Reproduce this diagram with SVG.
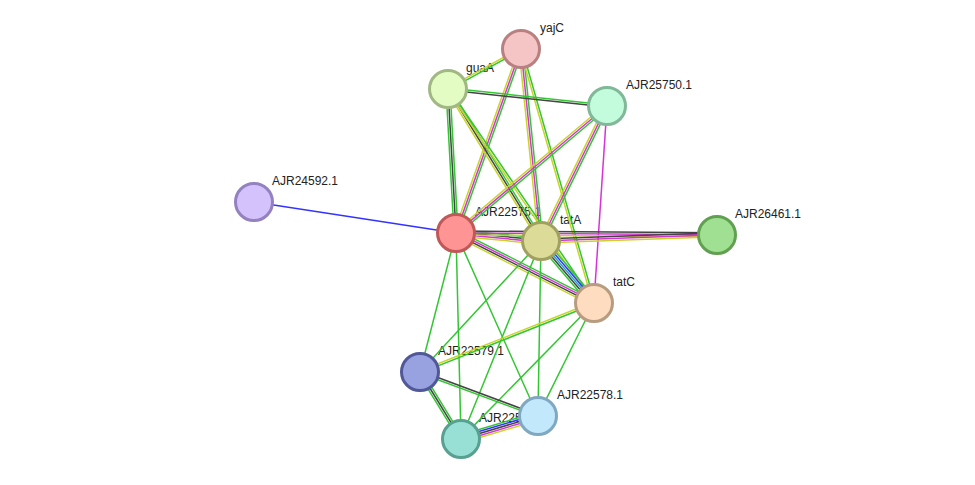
<svg xmlns="http://www.w3.org/2000/svg" width="975" height="485" viewBox="0 0 975 485">
<style>
line{stroke-width:1.5;fill:none}
.g{stroke:#33c633}.y{stroke:#c8d42a}.m{stroke:#d633d6}.k{stroke:#444}.b{stroke:#3333ff}.c{stroke:#22aacc}
circle{stroke-width:3}
text{font-family:"Liberation Sans",Arial,sans-serif;font-size:12px;fill:#222}
</style>
<rect width="975" height="485" fill="#fff"/>
<g id="labels">
<text x="540" y="32">yajC</text>
<text x="466" y="72">guaA</text>
<text x="626" y="89">AJR25750.1</text>
<text x="272" y="185">AJR24592.1</text>
<text x="475" y="216">AJR22575.1</text>
<text x="560" y="224">tatA</text>
<text x="735" y="218">AJR26461.1</text>
<text x="613" y="286">tatC</text>
<text x="438" y="355">AJR22579.1</text>
<text x="557" y="399">AJR22578.1</text>
<text x="479" y="422">AJR22576.1</text>
</g>
<g id="connectors">
<g transform="translate(254,202) rotate(8.7)"><line class="b" x2="204.4"/></g>
<g transform="translate(521,49) rotate(151.3)"><line class="g" x2="83.2" y1="-1" y2="-1"/><line class="y" x2="83.2" y1="1" y2="1"/></g>
<g transform="translate(521,49) rotate(109.5)"><line class="g" x2="195.1" y1="-2" y2="-2"/><line class="m" x2="195.1"/><line class="y" x2="195.1" y1="2" y2="2"/></g>
<g transform="translate(521,49) rotate(84.1)"><line class="g" x2="193" y1="-2" y2="-2"/><line class="m" x2="193"/><line class="y" x2="193" y1="2" y2="2"/></g>
<g transform="translate(521,49) rotate(74)"><line class="g" x2="264.3" y1="-1" y2="-1"/><line class="y" x2="264.3" y1="1" y2="1"/></g>
<g transform="translate(448,89) rotate(6.1)"><line class="g" x2="159.9" y1="-1" y2="-1"/><line class="k" x2="159.9" y1="1" y2="1"/></g>
<g transform="translate(448,89) rotate(86.8)"><line class="g" x2="144.2" y1="-2" y2="-2"/><line class="k" x2="144.2"/><line class="g" x2="144.2" y1="2" y2="2"/></g>
<g transform="translate(448,89) rotate(58.5)"><line class="g" x2="178.2" y1="-2" y2="-2"/><line class="k" x2="178.2"/><line class="y" x2="178.2" y1="2" y2="2"/></g>
<g transform="translate(448,89) rotate(55.7)"><line class="g" x2="259.1" y1="-1" y2="-1"/><line class="y" x2="259.1" y1="1" y2="1"/></g>
<g transform="translate(607,106) rotate(139.9)"><line class="g" x2="197.3" y1="-2" y2="-2"/><line class="m" x2="197.3"/><line class="y" x2="197.3" y1="2" y2="2"/></g>
<g transform="translate(607,106) rotate(116.1)"><line class="g" x2="150.3" y1="-2" y2="-2"/><line class="m" x2="150.3"/><line class="y" x2="150.3" y1="2" y2="2"/></g>
<g transform="translate(607,106) rotate(93.8)"><line class="m" x2="197.4"/></g>
<g transform="translate(456,233) rotate(5.4)"><line class="g" x2="85.4" y1="-3" y2="-3"/><line class="k" x2="85.4" y1="-1" y2="-1"/><line class="m" x2="85.4" y1="1" y2="1"/><line class="y" x2="85.4" y1="3" y2="3"/></g>
<g transform="translate(456,233) rotate(0.4)"><line class="k" x2="261" y1="-2" y2="-2"/><line class="m" x2="261"/><line class="y" x2="261" y1="2" y2="2"/></g>
<g transform="translate(541,241) rotate(-2)"><line class="k" x2="176.1" y1="-2" y2="-2"/><line class="m" x2="176.1"/><line class="y" x2="176.1" y1="2" y2="2"/></g>
<g transform="translate(456,233) rotate(26.9)"><line class="g" x2="154.7" y1="-3" y2="-3"/><line class="m" x2="154.7" y1="-1" y2="-1"/><line class="k" x2="154.7" y1="1" y2="1"/><line class="y" x2="154.7" y1="3" y2="3"/></g>
<g transform="translate(541,241) rotate(49.5)"><line class="g" x2="81.6" y1="-4" y2="-4"/><line class="b" x2="81.6" y1="-2" y2="-2"/><line class="c" x2="81.6"/><line class="k" x2="81.6" y1="2" y2="2"/><line class="g" x2="81.6" y1="4" y2="4"/></g>
<g transform="translate(456,233) rotate(104.5)"><line class="g" x2="143.6"/></g>
<g transform="translate(456,233) rotate(88.6)"><line class="g" x2="206.1"/></g>
<g transform="translate(456,233) rotate(65.9)"><line class="g" x2="200.5"/></g>
<g transform="translate(541,241) rotate(132.7)"><line class="g" x2="178.3"/></g>
<g transform="translate(541,241) rotate(112)"><line class="g" x2="213.6"/></g>
<g transform="translate(541,241) rotate(91)"><line class="g" x2="175"/></g>
<g transform="translate(594,303) rotate(158.4)"><line class="g" x2="187.2" y1="-1" y2="-1"/><line class="y" x2="187.2" y1="1" y2="1"/></g>
<g transform="translate(594,303) rotate(116.4)"><line class="g" x2="126.1"/></g>
<g transform="translate(594,303) rotate(134.4)"><line class="g" x2="190.2"/></g>
<g transform="translate(420,372) rotate(20.4)"><line class="k" x2="125.9" y1="-1" y2="-1"/><line class="g" x2="125.9" y1="1" y2="1"/></g>
<g transform="translate(420,372) rotate(58.5)"><line class="g" x2="78.5" y1="-2" y2="-2"/><line class="k" x2="78.5"/><line class="g" x2="78.5" y1="2" y2="2"/></g>
<g transform="translate(461,439) rotate(-16.6)"><line class="g" x2="80.4" y1="-4" y2="-4"/><line class="b" x2="80.4" y1="-2" y2="-2"/><line class="k" x2="80.4"/><line class="m" x2="80.4" y1="2" y2="2"/><line class="y" x2="80.4" y1="4" y2="4"/></g>
</g>
<g id="yajC"><circle cx="521" cy="49" r="18.5" fill="#f5c4c4" stroke="#b88080"/></g>
<g id="guaA"><circle cx="448" cy="89" r="18.5" fill="#e2fcc4" stroke="#a2b882"/></g>
<g id="AJR25750.1"><circle cx="607" cy="106" r="18.5" fill="#c2fcdc" stroke="#80b898"/></g>
<g id="AJR24592.1"><circle cx="254" cy="202" r="18.5" fill="#d4c2fc" stroke="#9482c0"/></g>
<g id="AJR22575.1"><circle cx="456" cy="233" r="18.5" fill="#fe9494" stroke="#c05858"/></g>
<g id="tatA"><circle cx="541" cy="241" r="18.5" fill="#dcdc98" stroke="#a0a060"/></g>
<g id="AJR26461.1"><circle cx="717" cy="235" r="18.5" fill="#a0e092" stroke="#60a050"/></g>
<g id="tatC"><circle cx="594" cy="303" r="18.5" fill="#fddcc0" stroke="#b89c80"/></g>
<g id="AJR22579.1"><circle cx="420" cy="372" r="18.5" fill="#98a2e0" stroke="#505898"/></g>
<g id="AJR22576.1"><circle cx="461" cy="439" r="18.5" fill="#98e0d6" stroke="#58a090"/></g>
<g id="AJR22578.1"><circle cx="538" cy="416" r="18.5" fill="#c2e8fc" stroke="#80a8c0"/></g>
</svg>
